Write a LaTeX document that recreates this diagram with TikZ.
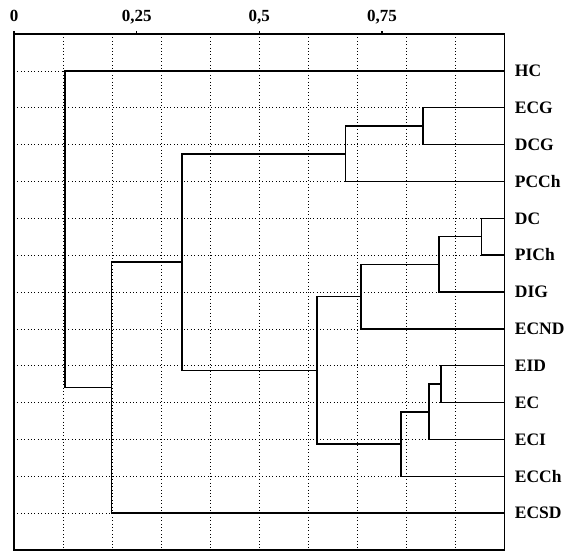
\documentclass[tikz,border=0pt]{standalone}
\usepackage{fontspec}
\setmainfont{Liberation Serif}
\tikzset{
  branch/.style={line width=1.5pt},
  gridline/.style={line width=0.7pt, dash pattern=on 0.8pt off 2.6pt},
  leaflabel/.style={anchor=west, inner sep=0pt, text height=11.5pt, text depth=0pt,
    font=\fontsize{17.5}{17.5}\selectfont\bfseries},
  ticklabel/.style={anchor=base, inner sep=0pt, font=\fontsize{17}{17}\selectfont\bfseries}
}
\begin{document}
\begin{tikzpicture}[x=490.7pt, y=-36.86pt]
\useasboundingbox (-14pt,34pt) rectangle (553pt,-519pt);

% dotted grid
\foreach \d in {0.1,0.2,0.3,0.4,0.5,0.6,0.7,0.8,0.9}
  \draw[gridline] (\d,0) -- (\d,14);
\foreach \r in {1,...,13}
  \draw[gridline] (0,\r) -- (1,\r);

% frame and scale
\draw[branch] (0,0) rectangle (1,14);
\foreach \d/\t [count=\k] in {0/0, 0.25/{0,25}, 0.5/{0,5}, 0.75/{0,75}} {
  \draw[branch] (\d,0) -- ([yshift=3pt]\d,0);
  \node[ticklabel] (t\k) at ([yshift=12.3pt]\d,0) {\t};
}

% leaves
\foreach \name [count=\i] in {HC,ECG,DCG,PCCh,DC,PICh,DIG,ECND,EID,EC,ECI,ECCh,ECSD} {
  \coordinate (l\i) at (1,\i);
  \node[leaflabel] (\name) at ([xshift=10pt]l\i) {\name};
}

% merge points
\coordinate (m1) at (0.833,2.5);
\coordinate (m2) at (0.676,3.25);
\coordinate (m3) at (0.953,5.5);
\coordinate (m4) at (0.866,6.25);
\coordinate (m5) at (0.707,7.125);
\coordinate (m6) at (0.870,9.5);
\coordinate (m7) at (0.846,10.25);
\coordinate (m8) at (0.789,11.125);
\coordinate (m9) at (0.617,9.125);
\coordinate (m10) at (0.342,6.1875);
\coordinate (m11) at (0.199,9.594);
\coordinate (m12) at (0.104,5.297);

% tree
\draw[branch] (l2) -| (m1) |- (l3);
\draw[branch] (m1) -| (m2) |- (l4);
\draw[branch] (l5) -| (m3) |- (l6);
\draw[branch] (m3) -| (m4) |- (l7);
\draw[branch] (m4) -| (m5) |- (l8);
\draw[branch] (l9) -| (m6) |- (l10);
\draw[branch] (m6) -| (m7) |- (l11);
\draw[branch] (m7) -| (m8) |- (l12);
\draw[branch] (m5) -| (m9) |- (m8);
\draw[branch] (m2) -| (m10) |- (m9);
\draw[branch] (m10) -| (m11) |- (l13);
\draw[branch] (l1) -| (m12) |- (m11);
\end{tikzpicture}
\end{document}
